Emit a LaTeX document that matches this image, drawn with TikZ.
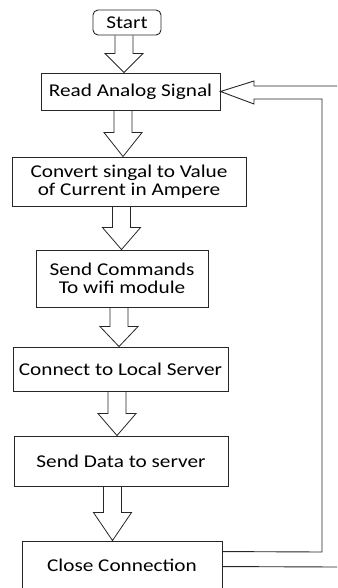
\documentclass[tikz,border=0pt]{standalone}
\usepackage{fontspec}
\setmainfont[FakeStretch=1.18]{Carlito}
\usetikzlibrary{calc}
\tikzset{
  boxnode/.style={draw=black!85, line width=0.9pt, inner sep=0pt, align=center,
    font=\fontsize{18}{18}\selectfont, text=black},
  blk/.style={draw=black!85, line width=0.8pt, line join=miter},
  fb/.style={draw=black!85, line width=0.9pt}
}
\newcommand\blockarrow[4]{% #1 center x (pt), #2 src, #3 dst, #4 head length (pt)
  \draw[blk] let \p1=(#2.south), \p2=(#3.north) in
    (#1pt-9pt,\y1) -- (#1pt-9pt,\y2+#4pt) -- (#1pt-19pt,\y2+#4pt) -- (#1pt,\y2)
    -- (#1pt+19pt,\y2+#4pt) -- (#1pt+9pt,\y2+#4pt) -- (#1pt+9pt,\y1);}
\begin{document}
\begin{tikzpicture}[x=1pt,y=-1pt]
\useasboundingbox (0,0) rectangle (337,588);
\clip (0,0) rectangle (337,588);
\node[boxnode, rounded corners=5pt, minimum width=68pt, minimum height=25pt] (start) at (127,22.5) {Start};
\node[boxnode, minimum width=179pt, minimum height=37pt] (read) at (130.5,91.5) {Read Analog Signal};
\node[boxnode, minimum width=234pt, minimum height=49pt] (conv) at (129,181.5) {Convert singal to Value\\of Current in Ampere};
\node[boxnode, minimum width=172pt, minimum height=57pt] (cmd) at (122,278.5) {Send Commands\\To wifi module};
\node[boxnode, minimum width=215pt, minimum height=44pt] (conn) at (120.5,369) {Connect to Local Server};
\node[boxnode, minimum width=214pt, minimum height=50pt] (data) at (121,461) {Send Data to server};
\node[boxnode, minimum width=200pt, minimum height=52pt] (close) at (122,567) {\raisebox{4pt}{Close Connection}};
\blockarrow{124}{start}{read}{19}
\blockarrow{123}{read}{conv}{24}
\blockarrow{121.5}{conv}{cmd}{22}
\blockarrow{119}{cmd}{conn}{20}
\blockarrow{117}{conn}{data}{22}
\blockarrow{112.5}{data}{close}{28}
\coordinate (fbA) at ($(close.north east)+(0,11)$);
\coordinate (fbB) at ($(close.north east)+(0,26)$);
\draw[fb] (fbA) -- (322,552) -- (322,99) -- (254,99) -- (254,104) -- (read.east)
  -- (254,81) -- (254,86) -- (337,86);
\draw[fb] (fbB) -- (337,567);
\end{tikzpicture}
\end{document}
